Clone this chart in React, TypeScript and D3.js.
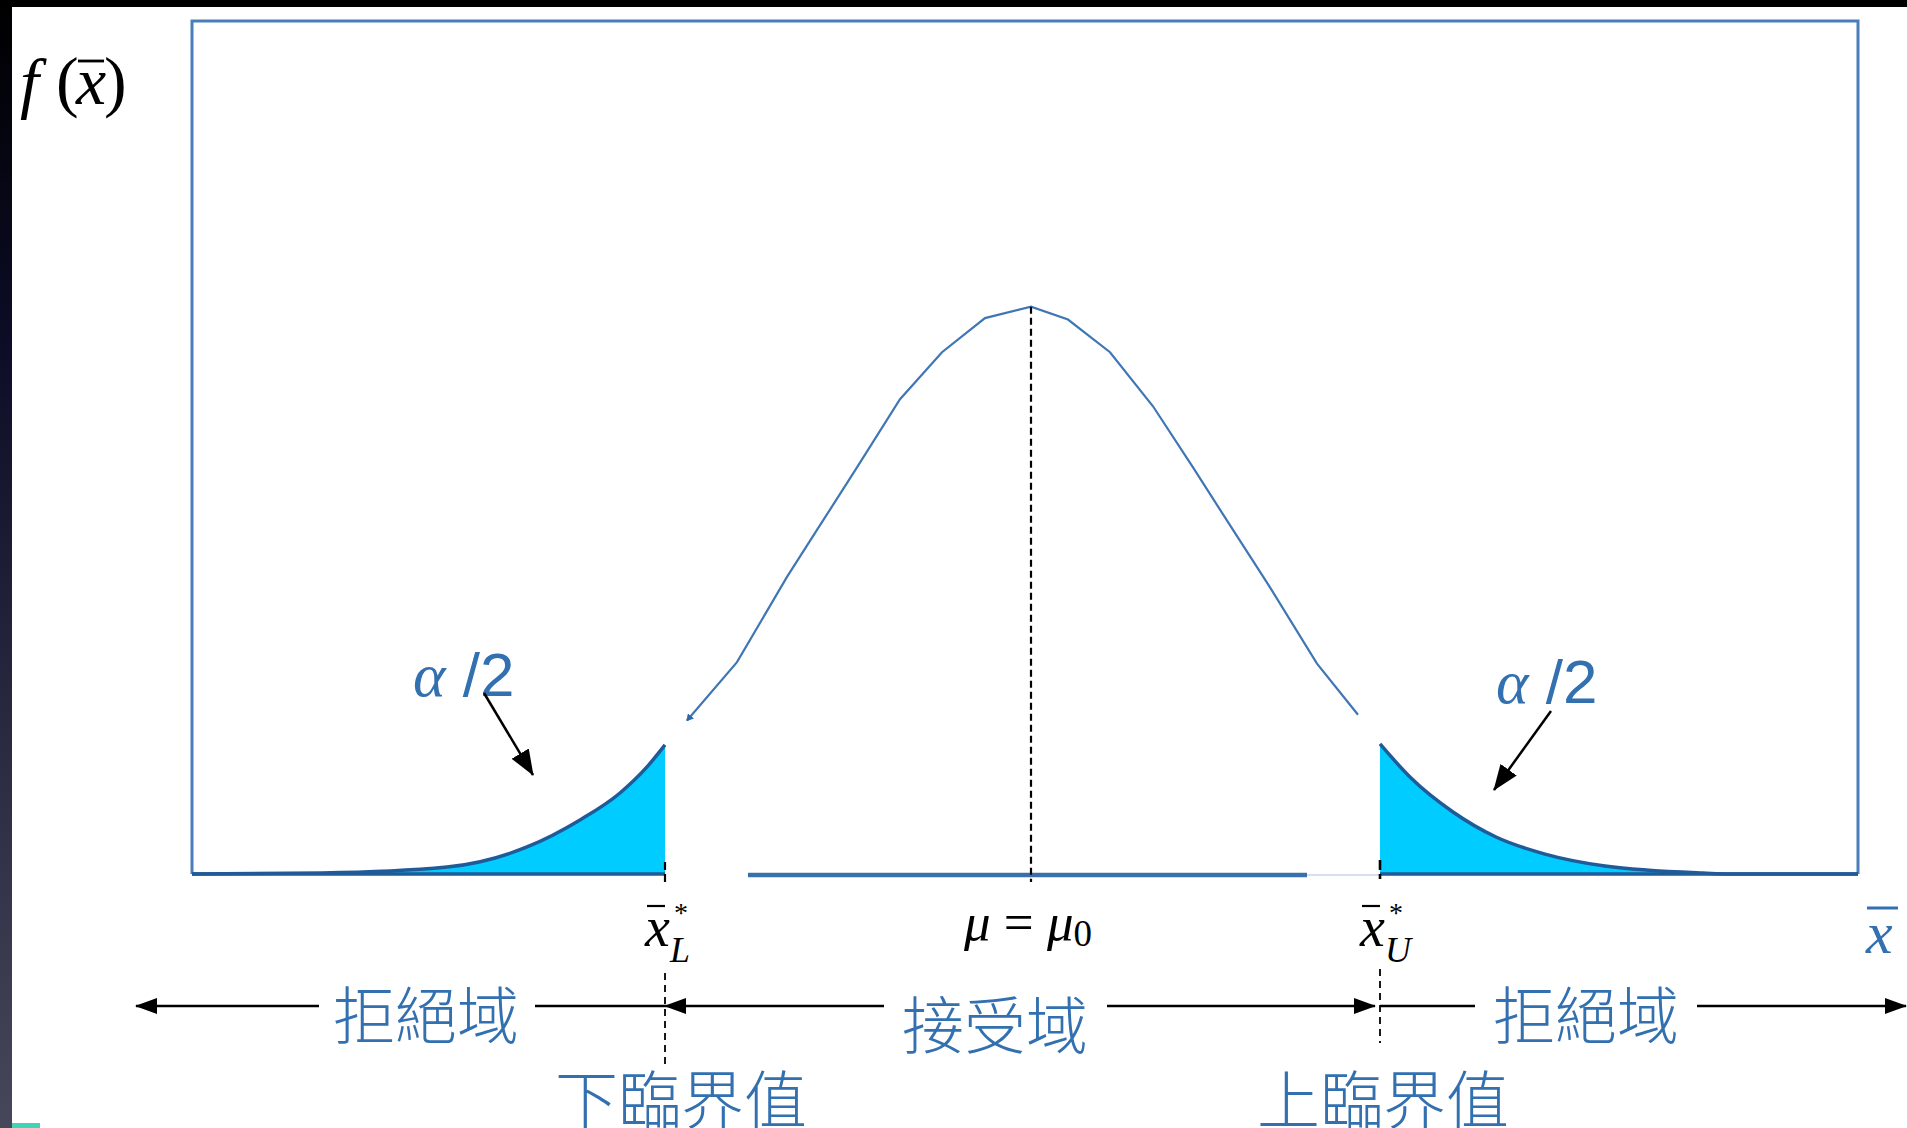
import React from 'react';
import * as d3 from 'd3';

const W = 1907;
const H = 1128;

// x axis in standard units (z), y axis is density f(x̄)
const xDomain: [number, number] = [-4.195, 4.135];
const yDomain: [number, number] = [0, 0.6];

// acceptance-region curve (polyline vertices)
const midZ = [-1.72, -1.47, -1.22, -1.07, -0.87, -0.655, -0.445, -0.23, 0, 0.185, 0.395, 0.61, 0.81, 1.01, 1.18, 1.43, 1.635];
const midY = [0.108, 0.149, 0.209, 0.242, 0.286, 0.334, 0.367, 0.391, 0.399, 0.39, 0.367, 0.329, 0.286, 0.242, 0.205, 0.148, 0.112];

// shaded rejection tails
const leftTailZ = [-4.195, -3.545, -2.92, -2.52, -2.255, -2.055, -1.92, -1.83];
const leftTailY = [0, 0.0007, 0.0049, 0.019, 0.038, 0.057, 0.0753, 0.0908];
const rightTailZ = [1.745, 1.9, 2.11, 2.325, 2.57, 2.87, 3.36, 3.54, 4.135];
const rightTailY = [0.0915, 0.0675, 0.0436, 0.026, 0.014, 0.0056, 0.0007, 0, 0];

const meanZ = 0;
const peakY = 0.399;
const criticalZ = [-1.83, 1.745];
const acceptBaseZ = [-1.415, 1.38];

const regionLabels = ['拒絕域', '接受域', '拒絕域'];
const criticalLabels = ['下臨界值', '上臨界值'];
const criticalSubs = ['L', 'U'];
const alphaText = ['α', ' /2'];

const BLUE_TEXT = '#3270b0';
const FRAME = '#4a7ebb';
const SERIF = '"Liberation Serif", "DejaVu Serif", serif';
const CJK = '"Noto Sans CJK TC", "Noto Sans CJK SC", sans-serif';

type P = [number, number];

export default function App() {
  const x = d3.scaleLinear().domain(xDomain).range([192, 1858]);
  const y = d3.scaleLinear().domain(yDomain).range([874, 21]);

  const mid: P[] = midZ.map((z, i) => [z, midY[i]]);
  const lt: P[] = leftTailZ.map((z, i) => [z, leftTailY[i]]);
  const rt: P[] = rightTailZ.map((z, i) => [z, rightTailY[i]]);

  const poly = d3.line<P>().x(d => x(d[0])).y(d => y(d[1]));
  const smooth = d3.line<P>().x(d => x(d[0])).y(d => y(d[1])).curve(d3.curveMonotoneX);
  const area = d3
    .area<P>()
    .x(d => x(d[0]))
    .y0(y(0))
    .y1(d => y(d[1]))
    .curve(d3.curveMonotoneX);

  const x0 = x(xDomain[0]);
  const x1 = x(xDomain[1]);
  const yTop = y(yDomain[1]);
  const yBase = y(0);
  const xm = x(meanZ);
  const xL = x(criticalZ[0]);
  const xU = x(criticalZ[1]);

  const rowY = 1006;

  return (
    <svg
      width={W}
      height={H}
      viewBox={`0 0 ${W} ${H}`}
      style={{ position: 'absolute', left: 0, top: 0, display: 'block' }}
    >
      <defs>
        <linearGradient id="lband" x1="0" y1="0" x2="0" y2="1">
          <stop offset="0" stopColor="#000000" />
          <stop offset="0.3" stopColor="#0c0c26" />
          <stop offset="1" stopColor="#46475a" />
        </linearGradient>
        <marker id="ah" markerUnits="userSpaceOnUse" markerWidth="22" markerHeight="18" refX="21" refY="9" orient="auto">
          <path d="M0,1 L22,9 L0,17 Z" fill="#000" />
        </marker>
        <marker id="ah2" markerUnits="userSpaceOnUse" markerWidth="26" markerHeight="22" refX="25" refY="11" orient="auto">
          <path d="M0,1 L26,11 L0,21 Z" fill="#000" />
        </marker>
        <marker id="ahs" markerUnits="userSpaceOnUse" markerWidth="7" markerHeight="8" refX="1" refY="4" orient="auto">
          <path d="M7,0 L0,4 L7,8 Z" fill="#2f68a8" />
        </marker>
      </defs>

      <rect x={0} y={0} width={W} height={H} fill="#ffffff" />
      <rect x={0} y={0} width={W} height={7} fill="#000" />
      <rect x={0} y={0} width={12} height={H} fill="url(#lband)" />
      <rect x={12} y={1123} width={28} height={5} fill="#3fd4b4" />

      {/* frame */}
      <path d={`M${x0},${yBase} L${x0},${yTop} L${x1},${yTop} L${x1},${yBase}`} fill="none" stroke={FRAME} strokeWidth={3} />

      {/* baseline pieces */}
      <line x1={x(acceptBaseZ[0])} x2={x(acceptBaseZ[1])} y1={yBase + 1} y2={yBase + 1} stroke="#3a6fae" strokeWidth={4.5} />
      <line x1={x(acceptBaseZ[1])} x2={xU} y1={yBase + 1} y2={yBase + 1} stroke="#c9d5e8" strokeWidth={1.5} />

      {/* tails */}
      <path d={area(lt) || ''} fill="#00ccff" />
      <path d={area(rt) || ''} fill="#00ccff" />
      <path d={smooth(lt) || ''} fill="none" stroke="#1f5a99" strokeWidth={3.5} />
      <path d={smooth(rt) || ''} fill="none" stroke="#1f5a99" strokeWidth={3.5} />
      <line x1={x0} x2={xL} y1={yBase} y2={yBase} stroke="#1f5a99" strokeWidth={3.5} />
      <line x1={xU} x2={x1} y1={yBase} y2={yBase} stroke="#1f5a99" strokeWidth={3.5} />

      {/* acceptance curve */}
      <path d={poly(mid) || ''} fill="none" stroke="#3f76b4" strokeWidth={2.2} markerStart="url(#ahs)" />

      {/* dashed reference lines */}
      <line x1={xm} x2={xm} y1={y(peakY)} y2={yBase + 8} stroke="#000" strokeWidth={2.2} strokeDasharray="7 4" />
      <line x1={xL} x2={xL} y1={yBase - 12} y2={yBase + 8} stroke="#000" strokeWidth={2.2} strokeDasharray="8 4" />
      <line x1={xU} x2={xU} y1={yBase - 14} y2={yBase + 5} stroke="#000" strokeWidth={2.6} strokeDasharray="10 4" />
      <line x1={xL} x2={xL} y1={973} y2={1068} stroke="#000" strokeWidth={1.8} strokeDasharray="7 5" />
      <line x1={xU} x2={xU} y1={969} y2={1043} stroke="#000" strokeWidth={1.8} strokeDasharray="7 5" />

      {/* y label f(x̄) */}
      <g fontFamily={SERIF} fontSize={68} fill="#000">
        <text x={20} y={106} fontStyle="italic">f</text>
        <text x={56} y={104}>(</text>
        <text x={76} y={104} fontStyle="italic">x</text>
        <text x={104} y={104}>)</text>
      </g>
      <line x1={78} x2={104} y1={61} y2={61} stroke="#000" strokeWidth={2.8} />

      {/* critical value labels x̄*_L, x̄*_U */}
      {[xL, xU].map((cx, i) => (
        <g key={i} fontFamily={SERIF} fill="#000">
          <text x={cx - 20} y={946} fontSize={56} fontStyle="italic">x</text>
          <line x1={cx - 18} x2={cx} y1={906} y2={906} stroke="#000" strokeWidth={2.2} />
          <text x={cx + 9} y={922} fontSize={28}>*</text>
          <text x={cx + 5} y={962} fontSize={36} fontStyle="italic">{criticalSubs[i]}</text>
        </g>
      ))}

      {/* μ = μ0 */}
      <text x={xm - 67} y={940} fontFamily={SERIF} fontSize={53} fill="#000">
        <tspan fontStyle="italic">μ</tspan>
        <tspan> = </tspan>
        <tspan fontStyle="italic">μ</tspan>
        <tspan fontSize={37} dy={6}>0</tspan>
      </text>

      {/* axis label x̄ */}
      <text x={1866} y={953} fontFamily={SERIF} fontSize={60} fontStyle="italic" fill={BLUE_TEXT}>x</text>
      <line x1={1867} x2={1898} y1={908} y2={908} stroke={BLUE_TEXT} strokeWidth={3} />

      {/* α/2 labels */}
      {[
        [413, 696],
        [1496, 703],
      ].map(([tx, ty], i) => (
        <text key={i} x={tx} y={ty} fontSize={62} fill={BLUE_TEXT}>
          <tspan fontFamily={SERIF} fontStyle="italic">{alphaText[0]}</tspan>
          <tspan fontFamily='"Liberation Sans", Arial, sans-serif' fontWeight={300}>{alphaText[1]}</tspan>
        </text>
      ))}
      <line x1={484} y1={693} x2={533} y2={775} stroke="#000" strokeWidth={2.5} markerEnd="url(#ah2)" />
      <line x1={1551} y1={711} x2={1494} y2={790} stroke="#000" strokeWidth={2.5} markerEnd="url(#ah2)" />

      {/* region arrows */}
      <g stroke="#000" strokeWidth={2.6}>
        <line x1={319} y1={rowY} x2={136} y2={rowY} markerEnd="url(#ah)" />
        <line x1={535} y1={rowY} x2={xL} y2={rowY} />
        <line x1={884} y1={rowY} x2={xL} y2={rowY} markerEnd="url(#ah)" />
        <line x1={1107} y1={rowY} x2={xU - 5} y2={rowY} markerEnd="url(#ah)" />
        <line x1={xU} y1={rowY} x2={1475} y2={rowY} />
        <line x1={1697} y1={rowY} x2={1906} y2={rowY} markerEnd="url(#ah)" />
      </g>

      <g fontFamily={CJK} fontWeight={300} fontSize={62} fill={BLUE_TEXT} textAnchor="middle">
        <text x={426} y={1039}>{regionLabels[0]}</text>
        <text x={995} y={1049}>{regionLabels[1]}</text>
        <text x={1586} y={1039}>{regionLabels[2]}</text>
        <text x={xL + 16} y={1123} fontSize={63}>{criticalLabels[0]}</text>
        <text x={xU + 3} y={1123} fontSize={63}>{criticalLabels[1]}</text>
      </g>
    </svg>
  );
}
